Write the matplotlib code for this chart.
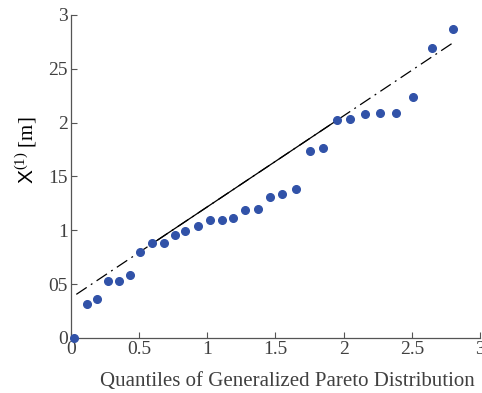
import numpy as np
import matplotlib.pyplot as plt

# quantile-quantile data: theoretical GPD quantiles vs. sorted sample
gpd_quantiles = [0.02, 0.117, 0.19, 0.27, 0.35, 0.43, 0.51, 0.594, 0.68, 0.76,
                 0.84, 0.93, 1.02, 1.11, 1.19, 1.28, 1.37, 1.46, 1.55, 1.65,
                 1.75, 1.85, 1.95, 2.05, 2.16, 2.27, 2.38, 2.51, 2.65, 2.80]
sample_values = [0.0, 0.316, 0.362, 0.53, 0.53, 0.585, 0.80, 0.88, 0.88, 0.956,
                 0.99, 1.04, 1.096, 1.096, 1.114, 1.19, 1.20, 1.31, 1.337, 1.38,
                 1.736, 1.764, 2.02, 2.03, 2.08, 2.09, 2.09, 2.24, 2.69, 2.87]

# reference line through the quartiles
line_x = [0.04, 0.594, 1.95, 2.80]
line_y = [0.405, 0.874, 2.021, 2.740]

xticks = [0, 0.5, 1, 1.5, 2, 2.5, 3]
xticklabels = ['0', '0.5', '1', '1.5', '2', '2.5', '3']
yticks = [0, 0.5, 1, 1.5, 2, 2.5, 3]
yticklabels = ['0', '05', '1', '15', '2', '25', '3']

plt.rcParams['font.family'] = 'Liberation Serif'
plt.rcParams['mathtext.fontset'] = 'custom'
plt.rcParams['mathtext.rm'] = 'Liberation Serif'
plt.rcParams['mathtext.sf'] = 'Liberation Sans'

fig = plt.figure(figsize=(4.82, 3.93), dpi=100)
ax = fig.add_axes([0.147, 0.140, 0.849, 0.822])

axcol = '#555555'
ax.plot(line_x, line_y, color='black', lw=0.9, ls=(0, (10, 4, 1.5, 4)))
ax.plot(line_x[1:3], line_y[1:3], color='black', lw=0.9, ls='-')
ax.plot(gpd_quantiles, sample_values, 'o', color='#3152A8', ms=5.5,
        mec='#3152A8', clip_on=False, zorder=5)

ax.set_xlim(0, 3)
ax.set_ylim(0, 3)
ax.set_xticks(xticks)
ax.set_xticklabels(xticklabels)
ax.set_yticks(yticks)
ax.set_yticklabels(yticklabels)
ax.tick_params(direction='in', length=4, width=0.8, colors=axcol,
               labelsize=14, labelcolor='#404040', pad=2)
for s in ['top', 'right']:
    ax.spines[s].set_visible(False)
for s in ['left', 'bottom']:
    ax.spines[s].set_color(axcol)
    ax.spines[s].set_linewidth(0.9)

ax.set_xlabel('Quantiles of Generalized Pareto Distribution', fontsize=15,
              color='#404040', ha='right')
ax.xaxis.set_label_coords(0.986, -0.105)
ax.set_ylabel(r'$\mathsf{X}^{(1)}$ [m]', fontsize=15, color='black')
ax.yaxis.set_label_coords(-0.077, 0.58)

fig.savefig('out.png', dpi=100)
